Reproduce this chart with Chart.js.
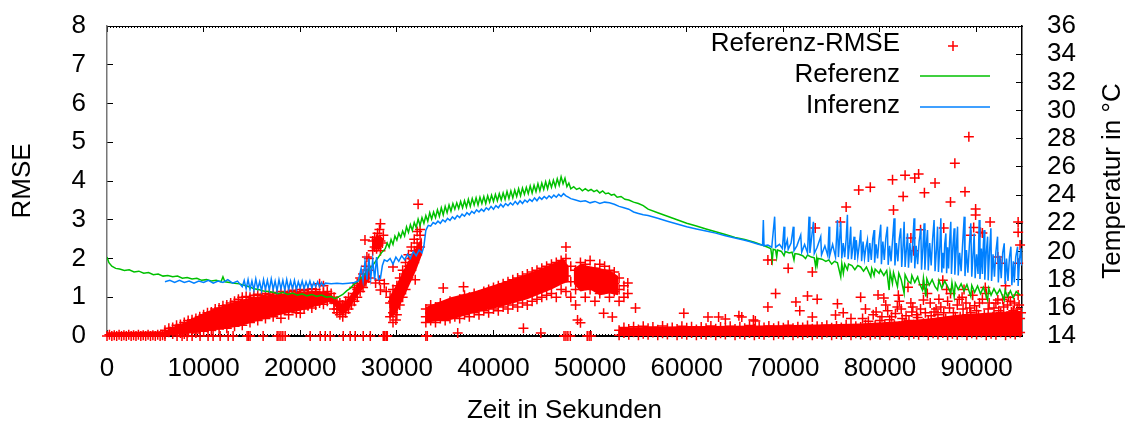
<!DOCTYPE html>
<html>
<head>
<meta charset="utf-8">
<script src="https://cdn.jsdelivr.net/npm/chart.js@4.4.0/dist/chart.umd.min.js"></script>
<style>
  html, body { margin: 0; padding: 0; background: #fff; }
  #rmse-chart { display: block; }
</style>
</head>
<body>
<canvas id="rmse-chart" width="1132" height="426"></canvas>
<script>
// tick labels
const xTickLabels = [0, 10000, 20000, 30000, 40000, 50000, 60000, 70000, 80000, 90000];
const rmseTickLabels = [0, 1, 2, 3, 4, 5, 6, 7, 8];
const tempTickLabels = [14, 16, 18, 20, 22, 24, 26, 28, 30, 32, 34, 36];

const seriesNames = ['Referenz-RMSE', 'Referenz', 'Inferenz'];

// Referenz-RMSE, [zeit, rmse]
const rmseStart = [
  [0,0],[250,0.03],[500,0],[750,0.02],[1000,0],[1250,0.03],[1500,0],[1750,0.02],[2000,0],[2250,0.03],
  [2500,0],[2750,0.02],[3000,0],[3250,0.03],[3500,0],[3750,0.02],[4000,0],[4250,0.03],[4500,0],[4750,0.02],
  [5000,0],[5250,0.03],[5500,0],[5750,0.02],[6000,0]
];
const rmseBase = [
  [7250,0],[7770,0],[8290,0],[8810,0],[9630,0],[10460,0],[10980,0],[11710,0],[12540,0],[13050,0],
  [14500,0],[14650,0],[14810,0],[16160,0],[17610,0],[17800,0],[18000,0],[18200,0],[18440,0],[21030,0],
  [22070,0],[22590,0],[23100,0],[24450,0],[25170,0],[25690,0],[26520,0],[27250,0],[28590,0],[28750,0],
  [28900,0],[29010,0],[33000,0],[33150,0],[36300,0.08],[44900,0.08],[47300,0],[47500,0],[47700,0],[47950,0],
  [49700,0],[49900,0],[50100,0]
];
const rmseRise = [
  [6000,0.05],[6000,0.15],[6400,0.1],[6400,0.2],[6800,0.05],[6800,0.22],[7200,0.12],[7200,0.28],[7600,0.08],[7600,0.3],
  [8000,0.05],[8000,0.15],[8000,0.35],[8400,0.1],[8400,0.3],[8400,0.4],[8800,0.18],[8800,0.42],[9200,0.08],[9200,0.3],[9200,0.45],[9600,0.2],[9600,0.5],
  [10000,0.12],[10000,0.35],[10000,0.55],[10400,0.22],[10400,0.5],[10400,0.6],[10800,0.15],[10800,0.4],[10800,0.62],[11200,0.25],[11200,0.55],[11200,0.7],[11600,0.18],[11600,0.45],[11600,0.72],
  [12000,0.3],[12000,0.6],[12000,0.78],[12400,0.2],[12400,0.5],[12400,0.8],[12800,0.35],[12800,0.65],[12800,0.85],[13200,0.25],[13200,0.55],[13200,0.9],[13600,0.4],[13600,0.7],[13600,0.95],
  [14000,0.28],[14000,0.6],[14000,1.0],[14400,0.45],[14400,0.8],[14400,1.02],[14800,0.35],[14800,0.7],[14800,1.0],[15200,0.5],[15200,0.85],[15200,1.05],[15600,0.4],[15600,0.75],[15600,1.08],
  [16000,0.55],[16000,0.9],[16000,1.05],[16400,0.45],[16400,0.8],[16400,1.1],[16800,0.6],[16800,0.95],[16800,1.08],[17200,0.5],[17200,0.85],[17200,1.12],[17600,0.65],[17600,1.0],[17600,1.1],
  [18000,0.46],[18000,0.8],[18000,1.15],[18400,0.7],[18400,1.0],[18400,1.12],[18800,0.55],[18800,0.9],[18800,1.15],[19200,0.72],[19200,1.05],[19200,1.18],[19600,0.6],[19600,0.92],[19600,1.15],
  [20000,0.59],[20000,0.8],[20000,1.1],[20000,1.2],[20400,0.7],[20400,1.0],[20400,1.18],[20800,0.78],[20800,1.05],[20800,1.2],[21200,0.72],[21200,0.95],[21200,1.22],[21600,0.8],[21600,1.1],[21600,1.2],
  [22000,0.85],[22000,1.05],[22000,1.35],[22400,0.82],[22400,1.12],[22400,1.3],[22800,0.9],[22800,1.15],[23200,0.95],[23200,1.1]
];
const rmseDip = [
  [23500,1.0],[23500,0.85],[23500,0.7],[23800,0.7],[23800,0.9],[23800,0.6],[24100,0.55],[24100,0.7],[24100,0.85],[24400,0.5],[24400,0.65],[24400,0.8],
  [24700,0.6],[24700,0.75],[24700,0.9],[25000,0.7],[25000,0.85],[25000,1.0],[25300,0.8],[25300,0.95],[25600,0.9],[25600,1.1],[25600,1.25],
  [25900,1.0],[25900,1.2],[25900,1.35],[26200,1.15],[26200,1.3],[26200,1.5],[26500,1.25],[26500,1.45],[26500,1.6],[26800,1.4],[26800,1.6],[26800,1.8],
  [26700,2.48],[26900,2.04],[27100,1.5],[27100,1.7],[27100,2.0],
  [27500,2.2],[27500,2.45],[27700,2.3],[27700,2.55],[27900,2.25],[27900,2.5],[28000,2.65],[28100,2.35],[28200,2.75],[28300,2.2],[28300,2.45],[28300,2.9],[28500,2.4],[28600,2.6],
  [27800,1.37],[28300,1.19],[28200,1.44],[28700,1.35],[28900,1.15],
  [29300,0.5],[29300,0.85],[29300,1.0],[29600,0.35],[29600,0.6],[29600,0.9],[29600,1.2],[29600,1.78],[29900,0.41],
  [30000,0.55],[30000,0.9],[30000,1.3],[30300,0.8],[30300,1.1],[30300,1.5],[30600,1.0],[30600,1.4],[30600,1.7],[30900,1.2],[30900,1.6],[30900,1.9],
  [31200,1.5],[31200,1.8],[31200,2.1],[31500,1.7],[31500,2.0],[31500,2.3],[31800,1.9],[31800,2.2],[31800,2.5],[31900,1.45],
  [32100,2.1],[32100,2.4],[32100,2.7],[32200,3.4],[32400,2.3],[32400,2.6],[32400,2.75]
];
const rmseHump = [
  [33000,0.35],[33000,0.5],[33000,0.7],[33500,0.4],[33500,0.6],[33500,0.8],[34000,0.35],[34000,0.55],[34000,0.75],[34500,0.45],[34500,0.65],[34500,0.85],
  [35000,0.4],[35000,0.6],[35000,0.8],[34800,1.24],[35500,0.45],[35500,0.7],[35500,0.9],[36000,0.5],[36000,0.65],[36000,0.85],[36500,0.45],[36500,0.75],[36500,0.95],
  [37000,0.55],[37000,0.8],[37000,1.05],[36900,1.27],[37500,0.5],[37500,0.75],[37500,1.0],[38000,0.6],[38000,0.85],[38000,1.1],[38500,0.55],[38500,0.9],[38500,1.05],
  [39000,0.65],[39000,0.95],[39000,1.15],[39500,0.6],[39500,0.85],[39500,1.2],[40000,0.7],[40000,1.0],[40000,1.25],[40500,0.65],[40500,0.95],[40500,1.3],
  [41000,0.75],[41000,1.05],[41000,1.35],[41500,0.7],[41500,1.1],[41500,1.4],[42000,0.8],[42000,1.15],[42000,1.45],[42500,0.75],[42500,1.05],[42500,1.5],
  [43000,0.85],[43000,1.2],[43000,1.55],[43100,0.2],[43500,0.8],[43500,1.25],[43500,1.6],[44000,0.9],[44000,1.3],[44000,1.65],[44500,0.95],[44500,1.2],[44500,1.7],
  [45000,1.0],[45000,1.35],[45000,1.75],[45500,1.05],[45500,1.4],[45500,1.8],[46000,1.1],[46000,1.5],[46000,1.85],[46500,1.0],[46500,1.45],[46500,1.9],
  [47000,1.2],[47000,1.6],[47000,1.95],[47500,1.15],[47500,1.55],[47500,2.0],[47500,2.3],[48000,1.0],[48000,1.4],[48000,1.8],[48500,0.8],[48500,1.2],[48500,1.7],[48700,0.41],
  [49000,1.3],[49000,1.65],[49000,1.9],[49000,0.34],[49500,1.0],[49500,1.5],[49500,1.85],[50000,1.2],[50000,1.6],[50000,1.95],[50500,0.9],[50500,1.4],[50500,1.75],
  [51000,1.1],[51000,1.5],[51000,1.85],[51400,0.59],[51500,1.25],[51500,1.6],[51500,1.8],[52000,1.0],[52000,1.45],[52000,1.7],[52300,0.49],
  [52500,1.15],[52500,1.35],[52500,1.65],[53000,0.9],[53000,1.2],[53000,1.5],[53500,1.0],[53500,1.3],[53900,1.37],[53900,1.1]
];
const rmseTail = [
  [53000,0.02],[53000,0.15],[53500,0.08],[53500,0.22],[54000,0.03],[54000,0.18],[54500,0.1],[54500,0.24],[55000,0.02],[55000,0.17],
  [55500,0.06],[55500,0.25],[56000,0.03],[56000,0.2],[56500,0.09],[56500,0.23],[57000,0.02],[57000,0.16],[57500,0.07],[57500,0.26],
  [58000,0.04],[58000,0.2],[58500,0.1],[58500,0.22],[59000,0.02],[59000,0.18],[59500,0.06],[59500,0.25],[60000,0.03],[60000,0.21],
  [60500,0.08],[60500,0.24],[61000,0.02],[61000,0.17],[61500,0.05],[61500,0.23],[62000,0.03],[62000,0.2],[62500,0.09],[62500,0.26],
  [63000,0.02],[63000,0.19],[63500,0.07],[63500,0.23],[64000,0.04],[64000,0.21],[64500,0.1],[64500,0.25],[65000,0.02],[65000,0.18],
  [65500,0.06],[65500,0.24],[66000,0.03],[66000,0.2],[66500,0.08],[66500,0.27],[67000,0.02],[67000,0.19],[67500,0.05],[67500,0.24],
  [68000,0.03],[68000,0.22],[68500,0.09],[68500,0.26],[69000,0.02],[69000,0.2],[69500,0.06],[69500,0.25],[70000,0.04],[70000,0.21],
  [70500,0.1],[70500,0.28],[71000,0.02],[71000,0.2],[71500,0.07],[71500,0.24],[72000,0.03],[72000,0.22],[72500,0.08],[72500,0.27],
  [73000,0.02],[73000,0.19],[73500,0.06],[73500,0.25],[74000,0.04],[74000,0.23],[74500,0.09],[74500,0.28],[75000,0.02],[75000,0.21],
  [75500,0.05],[75500,0.26],[76000,0.03],[76000,0.22],[76500,0.1],[76500,0.29],[77000,0.02],[77000,0.2],[77500,0.07],[77500,0.25],
  [78000,0.04],[78000,0.23],[78500,0.08],[78500,0.3],[79000,0.02],[79000,0.22],[79500,0.06],[79500,0.27],[80000,0.03],[80000,0.24],
  [80500,0.1],[80500,0.3],[81000,0.02],[81000,0.22],[81500,0.07],[81500,0.28],[82000,0.04],[82000,0.25],[82500,0.09],[82500,0.32],
  [83000,0.02],[83000,0.24],[83500,0.06],[83500,0.29],[84000,0.03],[84000,0.26],[84500,0.1],[84500,0.33],[85000,0.02],[85000,0.25],
  [85500,0.07],[85500,0.3],[86000,0.04],[86000,0.27],[86500,0.08],[86500,0.35],[87000,0.02],[87000,0.28],[87500,0.06],[87500,0.33],
  [88000,0.03],[88000,0.3],[88500,0.1],[88500,0.38],[89000,0.02],[89000,0.3],[89500,0.07],[89500,0.36],[90000,0.04],[90000,0.32],
  [90500,0.09],[90500,0.4],[91000,0.02],[91000,0.33],[91500,0.06],[91500,0.38],[92000,0.03],[92000,0.35],[92500,0.1],[92500,0.42],
  [93000,0.02],[93000,0.36],[93500,0.07],[93500,0.4],[94000,0.04],[94000,0.38],[94500,0.09],[94500,0.45]
];
const rmseScatter = [
  [54700,0.72],[59700,0.59],[62200,0.49],[63300,0.49],[64000,0.44],[65400,0.52],[65700,0.49],[66900,0.41],[67100,0.39],
  [68400,0.75],[68400,1.96],[68800,1.96],[69200,1.1],[70500,1.75],[71300,0.88],[71700,0.65],[72500,1.03],[73000,1.65],[73000,0.49],
  [73300,2.79],[73500,0.95],[75400,0.54],[75600,0.83],[75900,2.94],[76500,3.33],[77800,3.77],[78000,1.0],[79000,3.84],[79800,1.06],
  [80400,0.98],[81300,4.03],[81400,3.25],[81800,0.75],[82400,3.6],[82600,4.15],[82900,1.26],[83200,0.85],[83200,2.53],[83300,0.62],
  [83500,2.2],[83600,4.08],[84000,4.18],[84200,2.74],[84500,0.93],[84500,1.32],[84600,3.7],[85600,0.62],[85700,3.95],[86500,1.44],
  [86600,2.79],[87300,3.46],[87300,1.1],[87750,4.46],[88500,1.0],[88800,3.72],[89200,5.14],[89300,0.72],[89400,2.6],[89700,2.8],
  [89900,3.28],[89900,3.12],[90300,0.85],[90400,2.68],[90400,0.41],[90600,2.66],[91400,2.94],[92200,0.93],[92200,2.04],[92500,1.88],
  [93300,1.0],[94300,2.94],[94300,2.68],[94300,1.06],[94500,2.35],[94300,1.88],
  [76200,0.6],[77000,0.45],[78500,0.7],[79300,0.55],[80000,0.4],[80800,0.65],[81200,0.5],[82000,0.9],[82300,0.45],[83800,0.55],
  [84200,0.7],[85000,0.4],[85200,0.85],[86000,0.55],[86300,0.75],[86800,0.45],[87000,0.9],[87600,0.6],[88000,0.8],[88300,0.5],
  [88700,1.2],[89000,0.55],[89600,1.05],[90000,0.65],[90800,0.55],[91000,1.1],[91200,0.7],[91700,0.5],[92000,0.85],[92500,0.6],
  [92800,0.75],[93100,0.5],[93500,0.9],[93800,0.65],[94100,0.55],[94400,0.8],
  [78200,0.45],[78800,0.38],[79600,0.62],[80200,0.5],[81000,0.42],[81600,0.58],[82200,0.7],[82700,0.52],[83000,0.4],[83400,0.75],
  [83900,0.48],[84700,0.6],[85300,0.52],[85800,0.7],[86100,0.95],[86600,0.6],[87200,0.72],[87800,0.5],[88200,0.95],[88600,0.7],
  [88900,0.85],[89400,0.6],[89800,0.78],[90200,0.55],[90600,0.95],[91300,0.85],[91800,0.72],[92300,0.65],[92700,0.95],[93200,0.8],
  [93600,0.62],[93900,0.85],[94200,0.7],[94600,0.6],[80600,0.8],[81900,1.05],[84900,1.1],[86900,1.2],[90900,1.25],[93000,1.3]
];
// where the crosses overlap into a solid area: [zeit, lower rmse, upper rmse]
const rmseDense = [
  [0,0,0.1],[6000,0,0.12],[7000,0.02,0.25],[8000,0.05,0.35],[9600,0.1,0.55],[11000,0.15,0.7],[12500,0.2,0.82],[13800,0.25,0.93],
  [15000,0.35,1.0],[16500,0.45,1.05],[18200,0.56,1.1],[20000,0.65,1.15],[21800,0.78,1.17],[23000,0.88,1.12],[23500,0.8,1.0],
  [24000,0.62,0.88],[24400,0.55,0.82],[25000,0.68,0.98],[25600,0.92,1.2],[26200,1.12,1.45],[26800,1.32,1.68],[27200,1.48,1.8],
  [27350,null,null],
  [27500,2.22,2.5],[28000,2.25,2.6],[28500,2.3,2.55],
  [28800,null,null],
  [29200,0.45,1.0],[30000,0.6,1.35],[31000,1.15,1.85],[32000,1.7,2.3],[32600,2.1,2.55],
  [32800,null,null],
  [33000,0.35,0.75],[35600,0.42,1.0],[38000,0.6,1.15],[40700,0.75,1.37],[43500,0.95,1.6],[46000,1.2,1.85],[47200,1.35,2.0],[47800,1.4,1.8],
  [48100,null,null],
  [48300,1.35,1.75],[49000,1.15,1.85],[50000,1.2,1.8],[51000,1.05,1.75],[52000,1.1,1.7],[52900,1.05,1.55],
  [52950,null,null],
  [53000,0,0.22],[60000,0,0.25],[70000,0,0.28],[78000,0,0.32],[82000,0,0.38],[85000,0,0.45],[88000,0,0.55],[91000,0,0.6],[94700,0,0.65]
];

// Referenz temperature, [zeit, °C]
const referenzTemp = [
  [0,19.6],[200,19.2],[500,18.95],[900,18.8],[1300,18.75],[1800,18.65],[2300,18.7],[2800,18.55],[3300,18.6],[3800,18.45],
  [4300,18.5],[4800,18.35],[5300,18.4],[5800,18.25],[6300,18.3],[6800,18.2],[7300,18.25],[7800,18.1],[8300,18.15],[8800,18.05],
  [9300,18.1],[9800,17.95],[10300,18.0],[10800,17.9],[11300,17.95],[11800,17.85],[12000,18.2],[12200,17.85],[12700,17.8],[13200,17.75],
  [13700,17.7],[14200,17.6],[14700,17.5],[15200,17.35],[15700,17.3],[16200,17.2],[16700,17.15],[17200,17.1],[17700,17.0],[18200,17.1],
  [18700,16.95],[19200,17.05],[19700,16.9],[20200,17.0],[20700,16.85],[21200,16.95],[21700,16.8],[22200,16.9],[22700,16.75],[23200,16.8],
  [23600,16.65],[24000,16.8],[24400,16.95],[24800,17.2],[25200,17.4],[25600,17.7],[26000,17.9],[26400,18.2],[26800,18.45],[27200,18.8],
  [27600,19.1],[28000,19.5],[28400,19.9],[28800,20.2],
  [29000,20.6],[29200,20.3],[29400,20.85],[29600,20.5],[29800,21.1],[30000,20.8],[30200,21.3],[30400,21.0],[30600,21.45],[30800,21.1],
  [31000,21.75],[31200,21.35],[31400,21.9],[31600,21.5],[31800,22.05],[32000,21.7],[32200,22.3],[32400,21.85],[32600,22.4],[32800,22.0],
  [33000,22.55],[33200,22.15],[33400,22.75],[33600,22.3],[33800,22.8],[34000,22.4],[34200,22.95],[34400,22.5],[34600,23.1],[34800,22.6],
  [35000,23.2],[35200,22.75],[35400,23.3],[35600,22.85],[35800,23.4],[36000,23.0],[36200,23.45],[36400,23.05],[36600,23.55],[36800,23.1],
  [37000,23.6],[37200,23.15],[37400,23.7],[37600,23.2],[37800,23.75],[38000,23.3],[38200,23.8],[38400,23.3],[38600,23.85],[38800,23.4],
  [39000,23.9],[39200,23.4],[39400,23.95],[39600,23.5],[39800,24.0],[40000,23.55],[40200,24.05],[40400,23.6],[40600,24.1],[40800,23.65],
  [41000,24.15],[41200,23.7],[41400,24.25],[41600,23.75],[41800,24.3],[42000,23.8],[42200,24.35],[42400,23.9],[42600,24.45],[42800,23.95],
  [43000,24.5],[43200,24.05],[43400,24.55],[43600,24.1],[43800,24.65],[44000,24.15],[44200,24.7],[44400,24.25],[44600,24.8],[44800,24.3],
  [45000,24.85],[45200,24.4],[45400,24.95],[45600,24.45],[45800,25.0],[46000,24.55],[46200,25.05],[46400,24.6],[46600,25.15],[46800,24.7],
  [47000,25.3],[47200,24.8],[47400,25.2],[47600,24.6],[47800,24.85],[48000,24.45],
  [48300,24.6],[48600,24.4],[48900,24.5],[49200,24.3],[49500,24.45],[49800,24.3],[50100,24.4],[50400,24.25],[50700,24.35],[51000,24.15],
  [51300,24.3],[51600,24.1],[51900,24.15],[52200,24.0],[52500,24.05],[52800,23.85],[53200,23.9],[53600,23.7],[54000,23.65],[54500,23.5],
  [55000,23.4],[55500,23.25],[56000,23.0],
  [57000,22.75],[58000,22.5],[59000,22.25],[60000,22.0],[61000,21.8],[62000,21.6],[63000,21.4],[64000,21.2],[65000,21.0],[66000,20.85],
  [67000,20.65],[68000,20.4],[68400,20.3],[68700,20.2],[68860,19.4],[68950,20.15],[69200,20.1],[69310,19.6],[69400,20.1],[69800,20.0],
  [70070,19.7],[70200,20.0],[70600,19.9],[70900,19.95],[71100,19.4],[71200,19.85],[71600,19.8],[72000,19.7],[72300,19.5],[72500,19.75],
  [72900,19.6],[73200,19.55],[73350,18.9],[73450,19.5],[73520,19.1],[73600,19.5],[74000,19.45],[74400,19.3],[74700,19.4],[75000,19.1],
  [75300,19.3],[75600,19.2],[75940,18.2],[76050,19.15],[76210,18.45],[76350,19.1],[76630,18.7],[76750,19.1],[77100,19.0],[77400,18.7],
  [77700,19.0],[78000,18.9],[78300,18.6],[78600,18.9],[79050,18.2],[79150,18.8],[79390,18.3],[79500,18.75],[79910,18.45],[80050,18.7],
  [80400,18.3],[80700,18.65],[80950,17.26],[81050,18.55],[81290,17.74],[81400,18.5],[81810,17.5],[81950,18.45],[82200,18.0],[82500,17.03],
  [82600,18.35],[82900,17.9],[83190,17.74],[83300,18.3],[83600,17.8],[83900,18.2],[84100,17.7],[84400,17.26],[84500,18.1],[84750,16.8],
  [84850,18.05],[85100,17.6],[85400,18.0],[85700,17.5],[85960,17.26],[86100,17.95],[86400,17.4],[86700,17.9],[87000,17.5],[87330,17.03],
  [87450,17.8],[87680,16.8],[87800,17.75],[88100,17.3],[88400,17.7],[88700,17.2],[89000,17.65],[89400,16.8],[89500,17.6],[89800,17.1],
  [90100,17.55],[90400,17.0],[90700,17.45],[91140,16.55],[91250,17.4],[91500,16.9],[91800,17.35],[92100,16.95],[92400,17.3],[92860,16.55],
  [92950,17.25],[93200,16.8],[93500,17.2],[93800,16.7],[94100,17.15],[94500,16.9]
];

// Inferenz temperature, [zeit, °C]
const inferenzTemp = [
  [6000,17.85],[6500,17.95],[7000,17.8],[7500,17.95],[8000,17.8],[8500,17.9],[9000,17.75],[9500,17.9],[10000,17.8],[10500,17.95],
  [11000,17.75],[11500,17.9],[12000,17.8],[12500,18.0],[13000,17.75],[13500,17.9],
  [14000,17.5],[14200,17.95],[14400,17.35],[14600,18.0],[14800,17.3],[15000,17.9],[15200,17.25],[15400,18.05],[15600,17.35],[15800,17.85],
  [16000,17.2],[16200,18.0],[16400,17.3],[16600,17.95],[16800,17.25],[17000,18.05],[17200,17.3],[17400,17.9],[17600,17.2],[17800,18.0],
  [18000,17.35],[18200,17.95],[18400,17.25],[18600,18.0],[18800,17.3],[19000,17.9],[19200,17.35],[19400,17.95],[19600,17.3],[19800,17.85],
  [20000,17.4],[20200,17.9],[20400,17.35],[20600,17.85],[20800,17.45],[21000,17.9],[21200,17.4],[21400,17.8],[21600,17.5],[21800,17.85],
  [22000,17.5],[22200,17.8],[22400,17.55],[22600,17.75],
  [23200,17.7],[23800,17.75],[24400,17.7],[25000,17.75],
  [25600,17.8],[26000,17.9],[26300,18.8],[26500,17.9],[26700,19.3],[26900,18.0],[27100,19.5],[27300,18.1],[27500,19.4],[27700,18.0],
  [27900,19.6],[28100,18.0],[28300,18.1],[28500,19.0],[28700,19.4],[29000,19.3],[29300,19.5],[29600,19.1],[29900,19.6],[30200,19.3],
  [30500,19.7],[30800,19.4],[31100,19.8],[31400,19.5],[31700,20.0],[32000,19.7],[32300,20.1],[32600,19.9],[32800,20.4],
  [33000,21.5],[33250,21.85],[33500,21.8],[33750,22.05],[34000,21.95],[34250,22.15],[34500,22.0],[34750,22.25],[35000,22.1],[35250,22.35],
  [35500,22.2],[35750,22.45],[36000,22.3],[36250,22.55],[36500,22.4],[36750,22.65],[37000,22.5],[37250,22.75],[37500,22.6],[37750,22.85],
  [38000,22.7],[38250,22.95],[38500,22.8],[38750,23.0],[39000,22.85],[39250,23.1],[39500,22.95],[39750,23.2],[40000,23.0],[40250,23.25],
  [40500,23.1],[40750,23.35],[41000,23.15],[41250,23.4],[41500,23.25],[41750,23.45],[42000,23.3],[42250,23.55],[42500,23.35],[42750,23.6],
  [43000,23.4],[43250,23.65],[43500,23.5],[43750,23.7],[44000,23.55],[44250,23.8],[44500,23.6],[44750,23.85],[45000,23.7],[45250,23.9],
  [45500,23.75],[45750,23.95],[46000,23.8],[46250,24.0],[46500,23.85],[46750,24.05],[47000,23.9],[47250,24.1],[47500,23.95],[47750,23.85],
  [48000,23.75],[48500,23.65],[49000,23.55],[49500,23.6],[50000,23.45],[50500,23.55],[51000,23.4],[51500,23.5],[52000,23.45],[52500,23.35],
  [53000,23.2],[53500,23.1],[54000,23.0],[54500,22.8],[55000,22.7],[55500,22.6],[56000,22.55],[57000,22.35],[58000,22.15],[59000,21.95],
  [60000,21.75],[61000,21.6],[62000,21.45],[63000,21.3],[64000,21.12],[65000,20.95],[66000,20.8],[66500,20.7],
  [67000,20.6],[67500,20.5],[67850,20.45],[67930,22.23],[68000,20.4],[68400,20.45],[68800,20.3],[69100,22.47],[69200,20.3],[69600,20.5],
  [69900,20.2],[70070,21.76],[70150,20.2],[70410,20.81],[70500,20.15],[70800,20.6],[71030,21.76],[71100,20.05],[71400,20.4],[71800,21.17],
  [71900,19.95],[72200,20.5],[72500,19.9],[72660,22.47],[72750,19.9],[73110,22.11],[73200,19.85],[73500,20.3],[73870,21.05],[73950,19.75],
  [74300,20.4],[74600,19.7],[74730,21.76],[74800,19.7],[75100,20.5],[75400,19.6],[75600,22.23],[75700,19.6],[75940,22.11],
  [76050,19.5],[76200,20.6],[76350,19.6],[76500,20.9],[76630,22.6],[76700,19.45],[76850,20.5],[76970,21.76],[77050,19.45],[77200,20.3],
  [77320,21.05],[77400,19.4],[77550,20.8],[77700,19.6],[77850,20.4],[78010,21.52],[78100,19.3],[78250,20.7],[78400,19.5],[78550,20.3],
  [78700,20.81],[78800,19.25],[78950,20.6],[79100,19.4],[79250,20.9],[79390,21.52],[79450,19.2],[79600,20.5],[79750,19.5],[79900,20.8],
  [80080,21.9],[80150,19.1],[80300,20.7],[80450,19.4],[80600,20.9],[80770,21.76],[80850,19.05],[81000,20.4],[81150,19.3],[81300,20.8],
  [81460,22.35],[81550,19.0],[81700,20.6],[81850,19.3],[82000,20.9],[82150,21.64],[82250,18.9],[82400,20.5],[82500,22.11],[82600,18.9],
  [82750,20.3],[82850,21.28],[82950,18.85],[83100,20.6],[83250,19.2],[83400,20.8],[83530,22.35],[83600,18.8],[83750,20.4],[83900,19.1],
  [84050,20.7],[84230,21.64],[84300,18.7],[84450,20.3],[84570,22.0],[84650,18.7],[84800,20.5],[84920,21.52],[85000,18.65],[85150,20.6],
  [85300,19.0],[85450,20.9],[85600,22.23],[85700,18.6],[85850,20.2],[85960,21.76],[86050,18.55],[86200,20.4],[86300,22.35],[86400,18.5],
  [86500,19.9],[86600,18.8],[86700,20.5],[86820,21.28],[86900,18.45],[87000,20.3],[87100,18.8],[87200,20.6],[87330,22.11],[87400,18.4],
  [87550,20.4],[87680,21.64],[87750,18.35],[87900,20.2],[88030,21.76],[88100,18.3],[88250,19.9],[88400,18.6],[88550,20.5],[88720,22.47],
  [88800,18.25],[88950,20.1],[89100,18.5],[89250,20.4],[89400,22.0],[89500,18.2],[89650,20.0],[89750,21.28],[89850,18.1],[90000,19.8],
  [90150,18.4],[90270,22.23],[90350,18.05],[90500,20.2],[90600,18.4],[90700,20.5],[90780,21.52],[90850,18.0],[91000,19.9],[91140,21.05],
  [91200,17.95],[91350,20.1],[91480,21.64],[91550,17.9],[91700,19.8],[91850,18.2],[92000,20.0],[92170,21.05],[92250,17.8],[92400,19.7],
  [92550,18.1],[92700,19.9],[92860,20.58],[92950,17.7],[93100,19.5],[93250,17.9],[93400,19.6],[93550,20.34],[93650,17.6],[93800,19.3],
  [93900,17.8],[94050,19.6],[94240,20.34],[94300,17.55],[94450,19.5],[94580,20.22],[94650,19.0]
];

const FONT = '"Liberation Sans", Arial, Helvetica, sans-serif';
const RED = '#ff0000';
const toXY = arr => arr.map(([x, y]) => ({ x: x, y: y }));
const rmsePoints = [].concat(rmseStart, rmseBase, rmseRise, rmseDip, rmseHump, rmseTail, rmseScatter);

// minor ticks along the top and bottom border
let xMinorTicks = [];
for (let v = 0; v <= 94700; v += 312.5) xMinorTicks.push(v);

const tickFont = { family: FONT, size: 26 };

// gnuplot style key: text right aligned, sample on the right
const gnuplotKey = {
  id: 'gnuplotKey',
  afterDraw(chart) {
    const ctx = chart.ctx;
    const area = chart.chartArea;
    ctx.save();
    ctx.font = '26px ' + FONT;
    ctx.textAlign = 'right';
    ctx.textBaseline = 'middle';
    seriesNames.forEach((name, i) => {
      const ds = chart.data.datasets.find(d => d.label === name);
      const y = area.top + 18 + i * 31;
      ctx.fillStyle = '#000';
      ctx.fillText(name, area.right - 122, y);
      ctx.beginPath();
      ctx.lineWidth = 1.5;
      if (ds.showLine === false) {
        ctx.strokeStyle = ds.pointBorderColor;
        ctx.moveTo(area.right - 74, y + 2); ctx.lineTo(area.right - 64, y + 2);
        ctx.moveTo(area.right - 69, y - 3); ctx.lineTo(area.right - 69, y + 7);
      } else {
        ctx.strokeStyle = ds.borderColor;
        ctx.moveTo(area.right - 102, y + 1); ctx.lineTo(area.right - 32, y + 1);
      }
      ctx.stroke();
    });
    ctx.restore();
  }
};

// right axis title reads bottom to top like the left one
const rightTitle = {
  id: 'rightTitle',
  afterDraw(chart) {
    const ctx = chart.ctx;
    const area = chart.chartArea;
    ctx.save();
    ctx.translate(chart.width - 19, (area.top + area.bottom) / 2);
    ctx.rotate(-Math.PI / 2);
    ctx.font = '26px ' + FONT;
    ctx.fillStyle = '#000';
    ctx.textAlign = 'center';
    ctx.textBaseline = 'middle';
    ctx.fillText('Temperatur in °C', 0, 0);
    ctx.restore();
  }
};

const noLabelPadding = s => { s.paddingTop = 0; s.paddingBottom = 0; s.paddingLeft = 0; s.paddingRight = 0; };

const ctx = document.getElementById('rmse-chart').getContext('2d');

const chart = new Chart(ctx, {
  type: 'scatter',
  data: {
    datasets: [{
      label: seriesNames[0],
      data: toXY(rmsePoints),
      yAxisID: 'y',
      showLine: false,
      pointStyle: 'cross',
      pointRadius: 5,
      pointBorderWidth: 1.5,
      pointBorderColor: RED,
      pointBackgroundColor: RED,
      clip: false,
      order: 3
    }, {
      label: seriesNames[1],
      data: toXY(referenzTemp),
      yAxisID: 'y2',
      showLine: true,
      borderColor: '#00c000',
      borderWidth: 1.5,
      pointRadius: 0,
      tension: 0,
      order: 2
    }, {
      label: seriesNames[2],
      data: toXY(inferenzTemp),
      yAxisID: 'y2',
      showLine: true,
      borderColor: '#0080ff',
      borderWidth: 1.5,
      pointRadius: 0,
      tension: 0,
      order: 1
    }, {
      label: 'dense-low',
      data: rmseDense.map(([t, lo]) => ({ x: t, y: lo })),
      yAxisID: 'y',
      showLine: true,
      borderWidth: 0,
      borderColor: RED,
      pointRadius: 0,
      spanGaps: false,
      fill: false,
      order: 5
    }, {
      label: 'dense-high',
      data: rmseDense.map(([t, lo, hi]) => ({ x: t, y: hi })),
      yAxisID: 'y',
      showLine: true,
      borderWidth: 0,
      borderColor: RED,
      backgroundColor: RED,
      pointRadius: 0,
      spanGaps: false,
      fill: '-1',
      order: 4
    }]
  },
  options: {
    responsive: false,
    devicePixelRatio: 1,
    animation: false,
    events: [],
    layout: { padding: 0 },
    plugins: {
      legend: { display: false },
      tooltip: { enabled: false }
    },
    scales: {
      x: {
        type: 'linear',
        position: 'bottom',
        min: 0,
        max: 94700,
        afterBuildTicks: s => { s.ticks = xTickLabels.map(v => ({ value: v })); },
        afterFit: s => { s.height = 90; noLabelPadding(s); },
        ticks: { autoSkip: false, maxRotation: 0, padding: 23, color: '#000', font: tickFont, callback: v => String(v) },
        grid: { drawOnChartArea: false, tickLength: -6, color: '#000' },
        border: { color: '#000', width: 2 },
        title: { display: true, text: 'Zeit in Sekunden', color: '#000', font: tickFont, padding: { top: 0, bottom: 0 } }
      },
      xMinor: {
        type: 'linear',
        position: 'bottom',
        weight: -1,
        min: 0,
        max: 94700,
        afterBuildTicks: s => { s.ticks = xMinorTicks.map(v => ({ value: v })); },
        afterFit: s => { s.height = 0; noLabelPadding(s); },
        ticks: { display: false },
        grid: { drawOnChartArea: false, tickLength: -2, color: '#000' },
        border: { display: false }
      },
      xTop: {
        type: 'linear',
        position: 'top',
        min: 0,
        max: 94700,
        afterBuildTicks: s => { s.ticks = xTickLabels.map(v => ({ value: v })); },
        afterFit: s => { s.height = 26; noLabelPadding(s); },
        ticks: { display: false },
        grid: { drawOnChartArea: false, tickLength: -6, color: '#000' },
        border: { color: '#000', width: 1 }
      },
      xTopMinor: {
        type: 'linear',
        position: 'top',
        weight: -1,
        min: 0,
        max: 94700,
        afterBuildTicks: s => { s.ticks = xMinorTicks.map(v => ({ value: v })); },
        afterFit: s => { s.height = 0; noLabelPadding(s); },
        ticks: { display: false },
        grid: { drawOnChartArea: false, tickLength: -2, color: '#000' },
        border: { display: false }
      },
      y: {
        type: 'linear',
        position: 'left',
        min: 0,
        max: 8,
        afterBuildTicks: s => { s.ticks = rmseTickLabels.map(v => ({ value: v })); },
        afterFit: s => { s.width = 107; noLabelPadding(s); },
        ticks: { autoSkip: false, padding: 27, color: '#000', font: tickFont },
        grid: { drawOnChartArea: false, tickLength: -6, color: '#000' },
        border: { color: '#777', width: 1.5 },
        title: { display: true, text: 'RMSE', color: '#000', font: tickFont, padding: { top: 7, bottom: 0 } }
      },
      y2: {
        type: 'linear',
        position: 'right',
        min: 14,
        max: 36,
        afterBuildTicks: s => { s.ticks = tempTickLabels.map(v => ({ value: v })); },
        afterFit: s => { s.width = 110; noLabelPadding(s); },
        ticks: { autoSkip: false, padding: 31, color: '#000', font: tickFont },
        grid: { drawOnChartArea: false, tickLength: -6, color: '#000' },
        border: { color: '#000', width: 1.5 }
      }
    }
  },
  plugins: [gnuplotKey, rightTitle]
});
</script>
</body>
</html>
